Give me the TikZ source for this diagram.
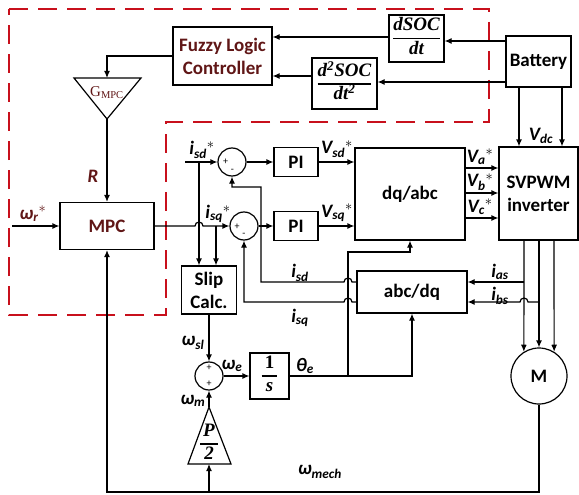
\documentclass[tikz,border=0pt]{standalone}
\usepackage{amsmath}
\usepackage{fontspec}
\setmainfont{Carlito}
\newfontfamily\gainfont{Liberation Serif}
\usetikzlibrary{arrows.meta}
\definecolor{deepMaroon}{RGB}{96,22,22}
\definecolor{frameRed}{RGB}{200,16,28}
\newcommand{\blockfrac}[2]{\begingroup\setlength{\arrayrulewidth}{1.1pt}%
  \begin{tabular}{@{}c@{}}#1\\[1pt]\hline\rule{0pt}{15pt}#2\end{tabular}\endgroup}

\begin{document}
\begin{tikzpicture}[x=1pt, y=-1pt,
  block/.style={draw, line width=1.2pt, inner sep=0pt, align=center, font=\fontsize{19}{23}\selectfont\bfseries},
  frac/.style={font=\gainfont\fontsize{19}{20}\selectfont\bfseries\itshape},
  sumnode/.style={draw, circle, line width=1.2pt, minimum size=28pt, inner sep=0pt},
  sig/.style={font=\fontsize{19}{22}\selectfont\bfseries\itshape, inner sep=0pt},
  sign/.style={font=\fontsize{10}{10}\selectfont, inner sep=0pt},
  wire/.style={line width=1.2pt},
  arrow/.style={wire, -{Latex[length=7pt, width=6pt]}},
  zone/.style={frameRed, line width=2.6pt, dash pattern=on 19pt off 10pt}
]
  \useasboundingbox (0,0) rectangle (579,495);

  % fuzzy tuning part
  \draw[zone] (9,9) -- (489,9) -- (489,122) -- (166,122) -- (166,315) -- (9,315) -- cycle;

  \node[block, minimum width=99pt, minimum height=58pt, text=deepMaroon] (fuzzy) at (222.5,56) {Fuzzy Logic\\Controller};
  \node[block, frac, minimum width=55pt, minimum height=47pt] (dsoc) at (416.5,38.5) {\blockfrac{dSOC}{dt}};
  \node[block, frac, minimum width=65pt, minimum height=51pt] (ddsoc) at (344.5,83.5) {\blockfrac{d\textsuperscript{2}SOC}{dt\textsuperscript{2}}};
  \node[block, minimum width=65pt, minimum height=51pt] (batt) at (538.5,61.5) {Battery};
  \node[block, minimum width=79pt, minimum height=93pt] (svpwm) at (538.5,193.5) {SVPWM\\inverter};
  \node[block, minimum width=110pt, minimum height=92pt] (dqabc) at (410,194) {dq/abc};
  \node[block, minimum width=44pt, minimum height=29pt] (pid) at (296,162) {PI};
  \node[block, minimum width=44pt, minimum height=29pt] (piq) at (296,226) {PI};
  \node[sumnode] (sumd) at (232,162) {};
  \node[sumnode] (sumq) at (244,226) {};
  \node[block, minimum width=94pt, minimum height=47pt, text=deepMaroon] (mpc) at (107,226) {MPC};
  \node[block, minimum width=55pt, minimum height=48pt] (slip) at (209,290) {Slip\\Calc.};
  \node[block, minimum width=110pt, minimum height=42pt] (abcdq) at (412,292) {abc/dq};
  \node[sumnode] (sumw) at (209,376) {};
  \node[block, frac, minimum width=39pt, minimum height=46pt] (integ) at (269.5,376) {\blockfrac{\,\textup{1}\,}{s}};
  \node[block, circle, minimum size=56pt] (motor) at (539,376) {M};

  % gains
  \draw[wire] (74,78) -- (141,78) -- (107,119) -- cycle;
  \node[font=\gainfont\fontsize{15}{15}\selectfont, text=deepMaroon] (gmpc) at (107,93) {G$_{\text{MPC}}$};
  \coordinate (gtop) at (107,78);
  \coordinate (gout) at (107,119);
  \draw[wire] (188,464) -- (231,464) -- (209,407) -- cycle;
  \node[frac, inner sep=0pt] (pole) at (209,444) {\blockfrac{\,P\,}{2}};
  \coordinate (ptop) at (209,407);
  \coordinate (pbase) at (209,464);

  % signs
  \node[sign] (sumdp) at (225.5,162) {+};
  \node[sign] (sumdm) at (232.5,170.5) {-};
  \node[sign] (sumqp) at (237,226.5) {+};
  \node[sign] (sumqm) at (244,234.5) {-};
  \node[sign] (sumwa) at (209,368) {+};
  \node[sign] (sumwb) at (209,384) {+};

  % battery side
  \draw[arrow] (batt.west |- 0,41) -- (dsoc.east |- 0,41);
  \draw[arrow] (dsoc.west |- 0,37) -- (fuzzy.east |- 0,37);
  \draw[arrow] (batt.west |- 0,82) -- (ddsoc.east |- 0,82);
  \draw[arrow] (ddsoc.west |- 0,76) -- (fuzzy.east |- 0,76);
  \draw[arrow] (fuzzy.west) -| (gtop);
  \draw[arrow] (gout) -- (mpc.north);
  \foreach \x in {519,562}
    \draw[arrow] (batt.south -| \x,0) -- (svpwm.north -| \x,0);

  % references
  \coordinate (wref) at (12,226);
  \coordinate (isdref) at (185,162);
  \coordinate (dtap) at (199,162);
  \coordinate (qtap) at (216,226);
  \draw[arrow] (wref) -- (mpc.west);
  \draw[arrow] (mpc.east) -- (195,226) arc[start angle=180, end angle=360, radius=4] -- (sumq.west);
  \draw[arrow] (isdref) -- (sumd.west);
  \draw[arrow] (dtap) -- (dtap |- slip.north);
  \draw[arrow] (qtap) -- (qtap |- slip.north);

  % current loops
  \draw[arrow] (sumd) -- (pid);
  \draw[arrow] (sumq) -- (piq);
  \draw[arrow] (pid) -- (pid.east -| dqabc.west);
  \draw[arrow] (piq) -- (piq.east -| dqabc.west);
  \foreach \y in {168,193,218}
    \draw[arrow] (dqabc.east |- 0,\y) -- (svpwm.west |- 0,\y);

  % motor and measured currents
  \draw[arrow] (svpwm.south -| 524,0) -- (motor.122);
  \draw[arrow] (svpwm.south -| 539,0) -- (motor.north);
  \draw[arrow] (svpwm.south -| 554,0) -- (motor.58);
  \coordinate (atap) at (524,282);
  \coordinate (btap) at (539,302);
  \draw[arrow] (atap) -- (atap -| abcdq.east);
  \draw[arrow] (btap) -- (528,302) arc[start angle=0, end angle=-180, radius=4] -- (btap -| abcdq.east);
  \draw[arrow] (abcdq.west |- 0,282) -- (352,282) arc[start angle=0, end angle=-180, radius=4] -- (261,282) |- (sumd.south |- 0,187) -- (sumd.south);
  \draw[arrow] (abcdq.west |- 0,302) -- (352,302) arc[start angle=0, end angle=-180, radius=4] -- (sumq.south |- 0,302) -- (sumq.south);

  % angle
  \coordinate (ttap) at (348,376);
  \draw[arrow] (slip) -- (sumw);
  \draw[arrow] (sumw) -- (integ);
  \draw[arrow] (integ.east) -| (abcdq.south);
  \draw[arrow] (ttap) |- (dqabc.south |- 0,252) -- (dqabc.south);

  % speed feedback
  \coordinate (wtap) at (209,492);
  \draw[arrow] (motor.south) |- (mpc.south |- 0,492) -- (mpc.south);
  \draw[arrow] (wtap) -- (pbase);
  \draw[arrow] (ptop) -- (sumw);

  % labels
  \node[sig, text=deepMaroon] (lR) at (93,176) {R};
  \node[sig, text=deepMaroon] (lwr) at (33,214) {ω$_{\text{r}}{}^{*}$};
  \node[sig] (lisdr) at (202,150) {i$_{\text{sd}}{}^{*}$};
  \node[sig] (lisqr) at (218,214) {i$_{\text{sq}}{}^{*}$};
  \node[sig] (lvsd) at (337,149) {V$_{\text{sd}}{}^{*}$};
  \node[sig] (lvsq) at (337,213) {V$_{\text{sq}}{}^{*}$};
  \node[sig] (lva) at (480,157) {V$_{\text{a}}{}^{*}$};
  \node[sig] (lvb) at (480,182) {V$_{\text{b}}{}^{*}$};
  \node[sig] (lvc) at (480,207) {V$_{\text{c}}{}^{*}$};
  \node[sig] (lvdc) at (541,136) {V$_{\text{dc}}$};
  \node[sig] (lisd) at (300,273) {i$_{\text{sd}}$};
  \node[sig] (lisq) at (300,318) {i$_{\text{sq}}$};
  \node[sig] (lias) at (500,272) {i$_{\text{as}}$};
  \node[sig] (libs) at (500,296) {i$_{\text{bs}}$};
  \node[sig] (lth) at (305,366) {θ$_{\text{e}}$};
  \node[sig] (lwsl) at (193,343) {ω$_{\text{sl}}$};
  \node[sig] (lwe) at (232,366) {ω$_{\text{e}}$};
  \node[sig] (lwm) at (193,401) {ω$_{\text{m}}$};
  \node[sig] (lwmech) at (320,472) {ω$_{\text{mech}}$};
\end{tikzpicture}
\end{document}
